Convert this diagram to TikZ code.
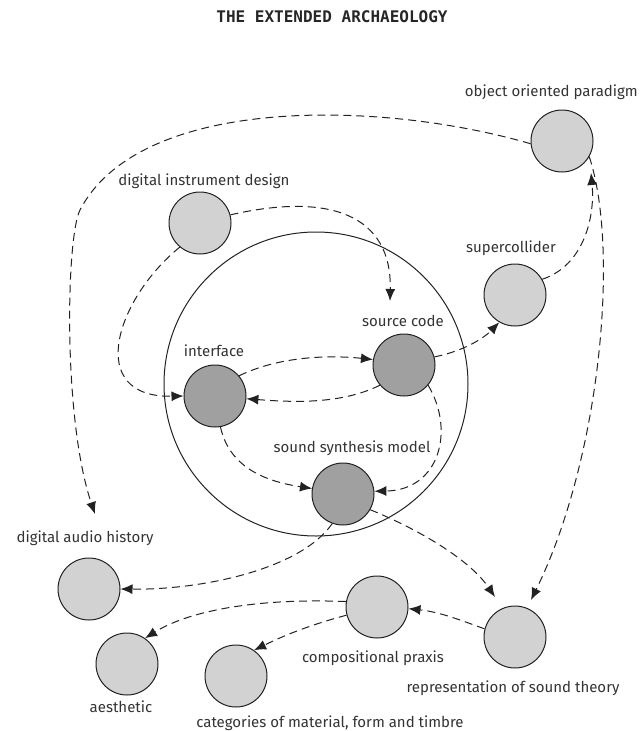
\documentclass[tikz,border=0pt]{standalone}
\usepackage{fontspec}
\setmainfont{Fira Sans}
\newfontfamily\titlefont{DejaVu Sans Mono}
\usetikzlibrary{arrows.meta}
\definecolor{outerfill}{HTML}{D2D2D2}
\definecolor{innerfill}{HTML}{A0A0A0}
\definecolor{linecol}{HTML}{222222}
\tikzset{
  outer/.style={circle, draw=linecol, line width=1pt, fill=outerfill, minimum size=62pt, inner sep=0pt},
  inner/.style={circle, draw=linecol, line width=1pt, fill=innerfill, minimum size=62pt, inner sep=0pt},
  lbl/.style={font=\fontsize{15}{17}\selectfont, text=black!80, inner sep=0pt},
  conn/.style={draw=linecol, line width=1pt, dash pattern=on 8pt off 5pt, -{Latex[length=12pt,width=10pt]}},
}
\begin{document}
\begin{tikzpicture}[x=1pt,y=-1pt]
\useasboundingbox (0,0) rectangle (641,731);
\node[font=\titlefont\bfseries\fontsize{16}{18}\selectfont, text=black!85] (title) at (332,17) {THE EXTENDED ARCHAEOLOGY};
% big circle
\node[circle, draw=linecol, line width=1pt, minimum size=304pt, inner sep=0pt] (big) at (316,384) {};
% nodes
\node[outer] (oop) at (562,141) {};
\node[outer] (did) at (200,223) {};
\node[outer] (sc) at (515,295) {};
\node[inner] (src) at (404,365) {};
\node[inner] (intf) at (215,396) {};
\node[inner] (ssm) at (343,494) {};
\node[outer] (dah) at (89,589) {};
\node[outer] (cp) at (377,607) {};
\node[outer] (rst) at (515,637) {};
\node[outer] (aes) at (127,664) {};
\node[outer] (cat) at (236,676) {};
% labels
\node[lbl, anchor=east] (oopl) at (638,92) {object oriented paradigm};
\node[lbl] (didl) at (204,181) {digital instrument design};
\node[lbl] (scl) at (511,248) {supercollider};
\node[lbl] (srcl) at (403,321) {source code};
\node[lbl] (intfl) at (214,351) {interface};
\node[lbl] (ssml) at (352,448) {sound synthesis model};
\node[lbl] (dahl) at (85,538) {digital audio history};
\node[lbl] (cpl) at (373,658) {compositional praxis};
\node[lbl] (rstl) at (513,688) {representation of sound theory};
\node[lbl] (aesl) at (121,707) {aesthetic};
\node[lbl] (catl) at (330,723) {categories of material, form and timbre};
% free ends
\coordinate (t1) at (390,301);
\coordinate (t3) at (95,514);
\coordinate (t7) at (591,173);
\coordinate (t8) at (531,600);
\coordinate (t12) at (495,597);
% connectors
\draw[conn] (did.15) .. controls (330,192) and (392,215) .. (t1);
\draw[conn] (did.230) .. controls (115,300) and (85,398) .. (intf.west);
\draw[conn] (oop.185) .. controls (380,100) and (140,95) .. (80,210) .. controls (66,238) and (63,420) .. (t3);
\draw[conn] (intf.40) .. controls (280,356) and (330,355) .. (src.170);
\draw[conn] (src.220) .. controls (340,405) and (290,402) .. (intf.-5);
\draw[conn] (src.15) .. controls (460,352) and (482,340) .. (sc.240);
\draw[conn] (sc.30) .. controls (585,265) and (595,215) .. (t7);
\draw[conn] (oop.-30) .. controls (620,250) and (600,460) .. (t8);
\draw[conn] (src.-40) .. controls (455,430) and (440,490) .. (ssm.5);
\draw[conn] (intf.-80) .. controls (230,470) and (270,482) .. (ssm.170);
\draw[conn] (ssm.-110) .. controls (300,570) and (200,590) .. (dah.east);
\draw[conn] (ssm.-30) .. controls (420,530) and (470,560) .. (t12);
\draw[conn] (rst.165) .. controls (460,620) and (440,612) .. (cp.-3);
\draw[conn] (cp.170) .. controls (260,598) and (190,610) .. (aes.55);
\draw[conn] (cp.195) .. controls (310,625) and (285,635) .. (cat.55);
\end{tikzpicture}
\end{document}
